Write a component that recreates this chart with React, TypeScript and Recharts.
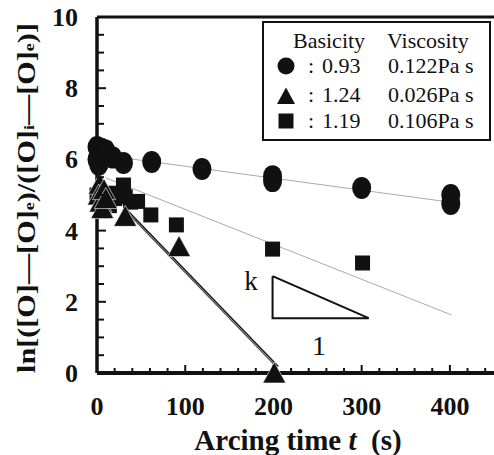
import React from 'react';
import { ComposedChart, Scatter, Line, XAxis, YAxis, ReferenceLine } from 'recharts';

// Basicity 0.93 (circles)
const circleData = [
  { x: 0, y: 6.35 }, { x: 2, y: 6.2 }, { x: 5, y: 6.3 }, { x: 0, y: 6.0 },
  { x: 8, y: 6.15 }, { x: 12, y: 6.1 }, { x: 18, y: 6.05 }, { x: 2, y: 5.85 },
  { x: 4, y: 5.95 }, { x: 10, y: 6.25 },
  { x: 30, y: 5.9 }, { x: 62, y: 5.93 }, { x: 119, y: 5.73 },
  { x: 199, y: 5.53 }, { x: 199, y: 5.39 }, { x: 300, y: 5.2 },
  { x: 401, y: 5.0 }, { x: 401, y: 4.75 },
];
// Basicity 1.24 (triangles)
const triangleData = [
  { x: 3, y: 5.3 }, { x: 2, y: 5.0 }, { x: 4, y: 4.8 }, { x: 6, y: 4.62 },
  { x: 8, y: 5.15 }, { x: 10, y: 4.9 }, { x: 32, y: 4.4 }, { x: 93, y: 3.55 }, { x: 201, y: 0.0 },
];
// Basicity 1.19 (squares)
const squareData = [
  { x: 0, y: 5.0 }, { x: 4, y: 4.75 }, { x: 10, y: 5.0 }, { x: 14, y: 4.7 },
  { x: 6, y: 4.55 }, { x: 16, y: 5.05 },
  { x: 20, y: 4.9 }, { x: 30, y: 5.28 }, { x: 32, y: 4.95 }, { x: 38, y: 4.8 }, { x: 46, y: 4.82 },
  { x: 61, y: 4.44 }, { x: 90, y: 4.16 }, { x: 199, y: 3.48 }, { x: 301, y: 3.09 },
];
// fitted lines
const circleFit = [{ x: 10, y: 6.11 }, { x: 400, y: 4.8 }];
const squareFit = [{ x: 10, y: 5.48 }, { x: 402, y: 1.63 }];
const triangleFitA = [{ x: 30, y: 4.62 }, { x: 203, y: 0.18 }];
const triangleFitB = [{ x: 32.5, y: 4.62 }, { x: 205.5, y: 0.18 }];
// slope annotation
const slopeTriangle = [{ x: 199, y: 2.72 }, { x: 199, y: 1.54 }, { x: 308, y: 1.54 }, { x: 199, y: 2.72 }];

const xTicks = [0, 20, 40, 60, 80, 100, 120, 140, 160, 180, 200, 220, 240, 260, 280, 300, 320, 340, 360, 380, 400, 420, 440];
const yTicks = [0, 0.5, 1, 1.5, 2, 2.5, 3, 3.5, 4, 4.5, 5, 5.5, 6, 6.5, 7, 7.5, 8, 8.5, 9, 9.5, 10];
const xLabeled = [0, 100, 200, 300, 400];
const yLabeled = [0, 2, 4, 6, 8, 10];

const legendRows = [
  { marker: 'circle', basicity: '0.93', viscosity: '0.122Pa s' },
  { marker: 'triangle', basicity: '1.24', viscosity: '0.026Pa s' },
  { marker: 'square', basicity: '1.19', viscosity: '0.106Pa s' },
];

const SERIF = "'Liberation Serif', serif";
const INK = '#111';
const serif = (size: number, bold = false): React.CSSProperties => ({
  fontFamily: SERIF,
  fontSize: size,
  fontWeight: bold ? 'bold' : 'normal',
});

const XTick = (props: any) => {
  const { x, y, payload } = props;
  const v = payload.value;
  const major = v % 100 === 0;
  return (
    <g>
      <line x1={x} x2={x} y1={y} y2={y - (major ? 8 : 5)} stroke={INK} strokeWidth={2} />
      {xLabeled.includes(v) && (
        <text x={x} y={y + 42} textAnchor="middle" style={serif(26, true)} fill={INK}>
          {v}
        </text>
      )}
    </g>
  );
};

const YTick = (props: any) => {
  const { x, y, payload } = props;
  const v = payload.value;
  const major = v % 2 === 0;
  return (
    <g>
      <line x1={x} x2={x + (major ? 9 : 7)} y1={y} y2={y} stroke={INK} strokeWidth={2} />
      {yLabeled.includes(v) && (
        <text x={x - 19} y={y + 9} textAnchor="end" style={serif(26, true)} fill={INK}>
          {v}
        </text>
      )}
    </g>
  );
};

const CircleShape = (p: any) => <ellipse cx={p.cx} cy={p.cy} rx={9.5} ry={11} fill={INK} />;
const TriangleShape = (p: any) => (
  <polygon
    points={`${p.cx},${p.cy - 11} ${p.cx - 11.5},${p.cy + 10} ${p.cx + 11.5},${p.cy + 10}`}
    fill={INK}
    stroke="#fff"
    strokeWidth={0.6}
  />
);
const SquareShape = (p: any) => <rect x={p.cx - 7.5} y={p.cy - 7.5} width={15} height={15} fill={INK} />;

const LegendMarker = ({ kind, cx, cy }: { kind: string; cx: number; cy: number }) => {
  if (kind === 'circle') return <circle cx={cx} cy={cy} r={8.5} fill={INK} />;
  if (kind === 'triangle')
    return <polygon points={`${cx},${cy - 8.5} ${cx - 9},${cy + 8} ${cx + 9},${cy + 8}`} fill={INK} />;
  return <rect x={cx - 7.5} y={cy - 7.5} width={15} height={15} fill={INK} />;
};

export default function App() {
  const rowY = [66, 96, 121];
  const rowBase = [73, 102, 128];
  return (
    <div style={{ position: 'absolute', left: 0, top: 0, width: 494, height: 455, background: '#fff' }}>
      <ComposedChart width={494} height={455} margin={{ top: 17, right: 0, bottom: 0, left: 0 }}>
        <XAxis
          dataKey="x"
          type="number"
          domain={[0, 450]}
          ticks={xTicks}
          interval={0}
          height={82}
          tickSize={0}
          tickMargin={0}
          tick={<XTick />}
          tickLine={false}
          axisLine={{ stroke: INK, strokeWidth: 4 }}
        />
        <YAxis
          dataKey="y"
          type="number"
          domain={[0, 10]}
          ticks={yTicks}
          interval={0}
          width={97}
          tickSize={0}
          tickMargin={0}
          tick={<YTick />}
          tickLine={false}
          axisLine={{ stroke: INK, strokeWidth: 3.5 }}
        />
        <ReferenceLine y={10} stroke={INK} strokeWidth={3} />
        <Line data={circleFit} dataKey="y" type="linear" dot={false} stroke="#aaa" strokeWidth={1} isAnimationActive={false} />
        <Line data={squareFit} dataKey="y" type="linear" dot={false} stroke="#aaa" strokeWidth={1} isAnimationActive={false} />
        <Line data={triangleFitA} dataKey="y" type="linear" dot={false} stroke="#444" strokeWidth={1.2} isAnimationActive={false} />
        <Line data={triangleFitB} dataKey="y" type="linear" dot={false} stroke="#111" strokeWidth={1.4} isAnimationActive={false} />
        <Line data={slopeTriangle} dataKey="y" type="linear" dot={false} stroke={INK} strokeWidth={2} isAnimationActive={false} />
        <Scatter data={squareData} dataKey="y" shape={SquareShape} isAnimationActive={false} />
        <Scatter data={triangleData} dataKey="y" shape={TriangleShape} isAnimationActive={false} />
        <Scatter data={circleData} dataKey="y" shape={CircleShape} isAnimationActive={false} />
      </ComposedChart>
      <svg width={494} height={455} style={{ position: 'absolute', left: 0, top: 0, pointerEvents: 'none' }}>
        {/* y axis title */}
        <text
          x={0}
          y={0}
          transform="translate(26,198) rotate(-90)"
          textAnchor="middle"
          dominantBaseline="central"
          style={serif(25, true)}
          fill={INK}
          textLength={350}
          lengthAdjust="spacingAndGlyphs"
        >
          ln[([O]—[O]<tspan style={{ fontSize: 15 }} dy={3}>e</tspan>
          <tspan dy={-3}>)/([O]</tspan>
          <tspan style={{ fontSize: 15 }} dy={3}>i</tspan>
          <tspan dy={-3}>—[O]</tspan>
          <tspan style={{ fontSize: 15 }} dy={3}>e</tspan>
          <tspan dy={-3}>)]</tspan>
        </text>
        {/* x axis title */}
        <text x={298} y={450} textAnchor="middle" style={serif(29, true)} fill={INK}>
          Arcing time <tspan style={{ fontStyle: 'italic' }}>t</tspan>
          {'\u00a0 (s)'}
        </text>
        {/* slope annotation labels */}
        <text x={251} y={290} textAnchor="middle" style={serif(27)} fill={INK}>k</text>
        <text x={319} y={355} textAnchor="middle" style={serif(28)} fill={INK}>1</text>
        {/* legend */}
        <rect x={263} y={22} width={227} height={118} fill="#fff" stroke={INK} strokeWidth={2} />
        <text x={293} y={48} style={serif(22)} fill={INK}>Basicity</text>
        <text x={387} y={48} style={serif(22)} fill={INK}>Viscosity</text>
        {legendRows.map((r, i) => (
          <g key={r.basicity}>
            <LegendMarker kind={r.marker} cx={286} cy={rowY[i]} />
            <text x={311} y={rowBase[i]} textAnchor="middle" style={serif(22)} fill={INK}>:</text>
            <text x={322} y={rowBase[i]} style={serif(22)} fill={INK}>{r.basicity}</text>
            <text x={388} y={rowBase[i]} style={serif(22)} fill={INK}>{r.viscosity}</text>
          </g>
        ))}
      </svg>
    </div>
  );
}
